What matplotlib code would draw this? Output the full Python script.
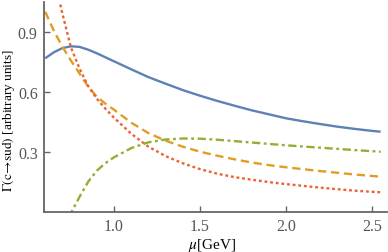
import matplotlib
matplotlib.use("Agg")
import matplotlib.pyplot as plt

# values
mu_blue = [0.6, 0.65, 0.7, 0.75, 0.8, 0.85, 0.9, 1.0, 1.1, 1.2, 1.3, 1.4, 1.5, 1.6, 1.7, 1.8, 1.9, 2.0, 2.1, 2.2, 2.3, 2.4, 2.5, 2.55]
gamma_blue = [0.767, 0.797, 0.818, 0.827, 0.824, 0.81, 0.792, 0.752, 0.712, 0.673, 0.640, 0.608, 0.58, 0.554, 0.53, 0.507, 0.487, 0.467, 0.452, 0.438, 0.425, 0.414, 0.404, 0.40]

mu_orange = [0.6, 0.65, 0.7, 0.75, 0.8, 0.85, 0.9, 0.95, 1.0, 1.1, 1.2, 1.3, 1.4, 1.5, 1.6, 1.7, 1.8, 1.9, 2.0, 2.2, 2.4, 2.55]
gamma_orange = [1.00, 0.905, 0.825, 0.755, 0.69, 0.625, 0.575, 0.54, 0.51, 0.445, 0.393, 0.355, 0.325, 0.30, 0.28, 0.262, 0.246, 0.233, 0.222, 0.203, 0.186, 0.175]

mu_red = [0.65, 0.684, 0.7, 0.75, 0.8, 0.85, 0.9, 0.95, 1.0, 1.1, 1.2, 1.3, 1.4, 1.5, 1.6, 1.7, 1.8, 1.9, 2.0, 2.2, 2.4, 2.55]
gamma_red = [1.20, 1.05, 0.99, 0.82, 0.715, 0.628, 0.565, 0.515, 0.47, 0.39, 0.325, 0.278, 0.242, 0.213, 0.19, 0.173, 0.16, 0.148, 0.138, 0.12, 0.105, 0.097]

mu_green = [0.74, 0.754, 0.8, 0.85, 0.9, 0.95, 1.0, 1.1, 1.2, 1.3, 1.4, 1.5, 1.6, 1.7, 1.8, 1.9, 2.0, 2.2, 2.4, 2.55]
gamma_green = [-0.03, 0.0, 0.075, 0.15, 0.205, 0.243, 0.272, 0.318, 0.347, 0.361, 0.366, 0.365, 0.36, 0.353, 0.346, 0.339, 0.332, 0.32, 0.308, 0.30]

x_ticks = [1.0, 1.5, 2.0, 2.5]
y_ticks = [0.3, 0.6, 0.9]

plt.rcParams['font.family'] = ['Liberation Serif', 'DejaVu Serif']
plt.rcParams['mathtext.fontset'] = 'stix'

grey = '#666666'

fig = plt.figure(figsize=(3.88, 2.53), dpi=100)
ax = fig.add_axes([44 / 388, 40.3 / 253, 343 / 388, 210 / 253])

ax.plot(mu_blue, gamma_blue, color='#5E81B5', lw=1.7, solid_capstyle='butt')
ax.plot(mu_orange, gamma_orange, color='#E19C24', lw=1.7, dashes=(3.5, 2))
ax.plot(mu_red, gamma_red, color='#EB6235', lw=1.7, dashes=(1.2, 1.2))
ax.plot(mu_green, gamma_green, color='#8FB032', lw=1.7, dashes=(3.5, 1.5, 1.2, 1.5))

ax.set_xlim(0.593, 2.587)
ax.set_ylim(0, 1.05)
ax.set_xticks(x_ticks)
ax.set_xticklabels(['%.1f' % t for t in x_ticks])
ax.set_yticks(y_ticks)
ax.set_yticklabels(['%.1f' % t for t in y_ticks])

for side in ['top', 'right']:
    ax.spines[side].set_visible(False)
for side in ['left', 'bottom']:
    ax.spines[side].set_color(grey)
    ax.spines[side].set_linewidth(1.3)

ax.tick_params(direction='in', length=4, width=1, color=grey,
               labelcolor='#555555', labelsize=11.5, pad=4.5)

ax.set_xlabel(r'$\mu$[GeV]', fontsize=11)
ax.xaxis.set_label_coords(0.49, -0.115)
ax.set_ylabel(r'$\Gamma(\mathrm{c}\!\rightarrow\!\mathrm{su\bar{d}})$ [arbitrary units]',
              fontsize=9.6)
ax.yaxis.set_label_coords(-0.075, 0.44)

fig.savefig('out.png', dpi=100)
